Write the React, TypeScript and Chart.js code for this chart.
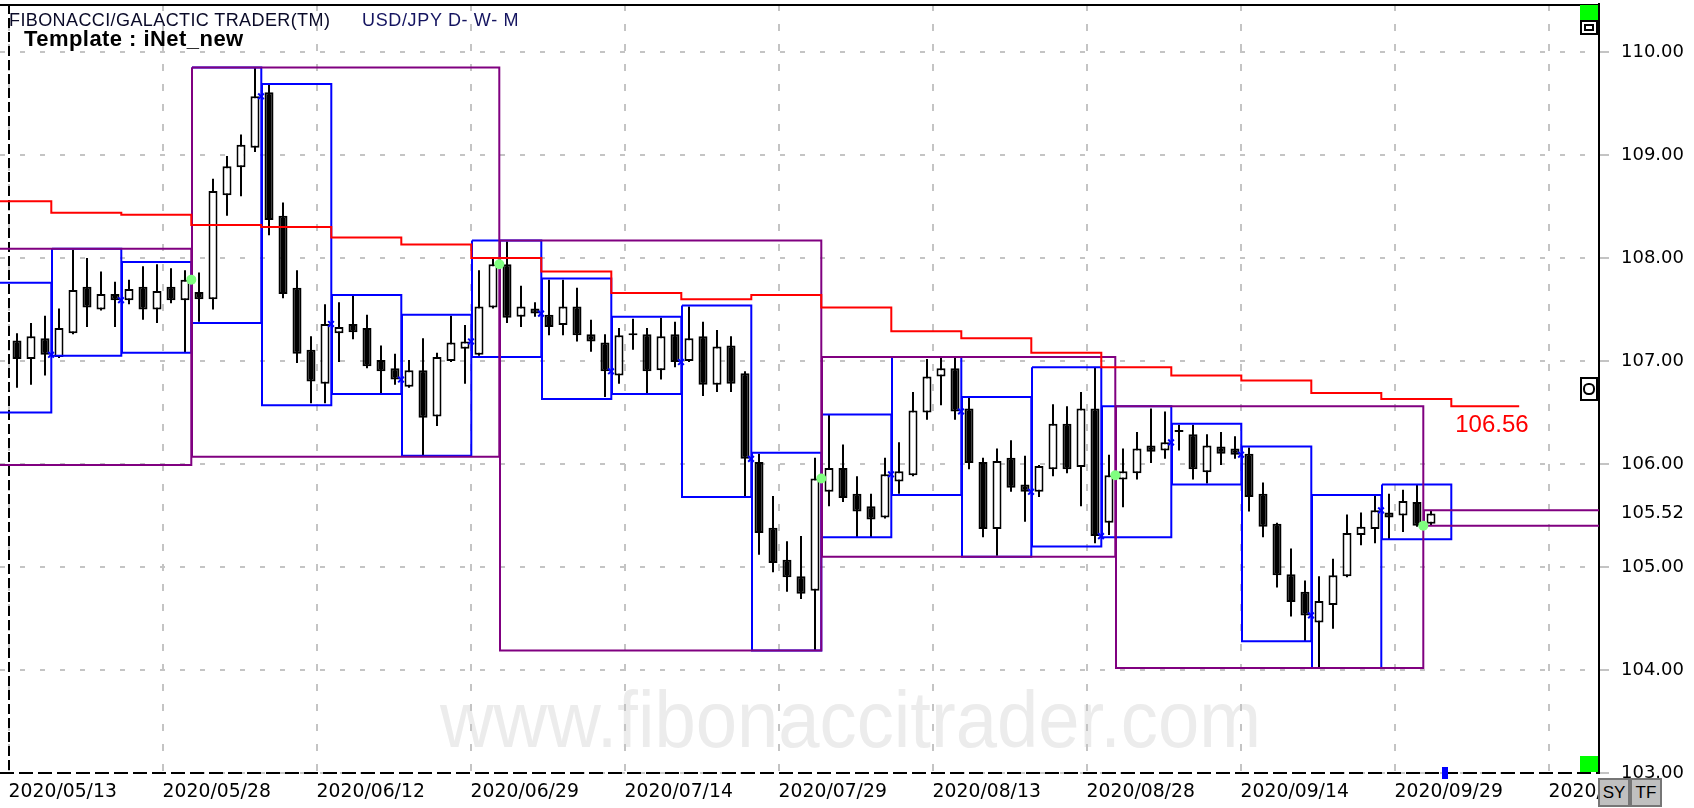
import React, { useEffect, useRef } from 'react';
import { Chart, registerables } from 'chart.js';

Chart.register(...registerables);

// ---- daily candles (index 0 = 2020/05/13) ----
const OPEN = [107.20,107.02,107.22,107.04,107.27,107.72,107.50,107.65,107.59,107.72,107.50,107.72,107.59,107.67,107.60,108.61,108.88,109.07,109.61,108.41,107.71,107.11,106.78,107.27,107.36,107.32,107.01,106.93,106.75,106.91,106.46,107.00,107.12,107.06,107.52,107.94,107.43,107.51,107.45,107.35,107.53,107.26,107.18,106.86,107.25,107.26,106.91,107.26,107.00,107.24,106.77,107.15,106.88,106.02,105.38,105.07,104.91,104.77,105.73,105.96,105.71,105.59,105.48,105.83,105.89,106.50,106.85,106.93,106.54,106.02,105.37,106.06,105.80,105.73,105.95,106.39,105.97,106.54,105.43,105.85,105.91,106.18,106.13,106.31,106.29,105.92,106.17,106.15,106.10,105.71,105.42,104.93,104.76,104.46,104.63,104.91,105.31,105.37,105.53,105.50,105.63,105.42];
const HIGH = [107.27,107.37,107.44,107.51,108.08,108.00,107.87,107.77,107.79,107.92,107.94,107.90,107.88,107.86,108.77,108.99,109.20,109.85,109.68,108.54,107.88,107.24,107.55,107.57,107.63,107.45,107.15,107.07,107.01,107.22,107.08,107.44,107.35,107.88,108.01,108.16,107.73,107.57,107.79,107.79,107.71,107.40,107.26,107.32,107.41,107.32,107.42,107.38,107.53,107.38,107.30,107.24,106.90,106.10,105.69,105.25,105.30,106.06,106.48,106.19,105.88,105.71,106.06,106.21,106.70,107.02,107.04,107.03,106.64,106.06,106.15,106.23,106.08,105.99,106.58,106.56,106.70,106.94,106.09,106.15,106.31,106.54,106.51,106.38,106.38,106.29,106.31,106.27,106.16,105.82,105.43,105.18,104.87,104.91,105.08,105.51,105.53,105.70,105.71,105.75,105.80,105.55];
const LOW = [106.74,106.77,106.86,107.03,107.26,107.33,107.49,107.33,107.55,107.40,107.37,107.56,107.08,107.38,107.50,108.41,108.60,109.03,108.22,107.61,106.98,106.59,106.59,106.99,107.21,106.93,106.68,106.77,106.74,106.07,106.37,106.99,106.78,107.05,107.51,107.37,107.33,107.43,107.25,107.25,107.19,107.09,106.65,106.78,107.11,106.68,106.82,106.94,106.99,106.66,106.70,106.70,105.68,105.12,104.95,104.76,104.69,104.19,105.59,105.63,105.29,105.29,105.47,105.71,105.88,106.43,106.57,106.43,105.95,105.29,105.11,105.73,105.44,105.68,105.88,105.91,105.59,105.23,105.31,105.58,105.85,106.01,106.05,106.13,105.85,105.81,105.99,106.05,105.54,105.29,104.80,104.52,104.28,104.02,104.40,104.90,105.21,105.23,105.27,105.34,105.39,105.40];
const CLOSE = [107.02,107.24,107.06,107.32,107.69,107.52,107.65,107.59,107.70,107.50,107.68,107.59,107.79,107.60,108.65,108.89,109.10,109.57,108.37,107.65,107.07,106.80,107.36,107.33,107.28,106.95,106.90,106.82,106.91,106.45,107.04,107.18,107.19,107.53,107.94,107.42,107.53,107.46,107.33,107.53,107.25,107.19,106.90,107.25,107.26,106.90,107.24,106.99,107.22,106.77,107.14,106.78,106.05,105.33,105.04,104.90,104.74,105.86,105.96,105.67,105.54,105.46,105.90,105.93,106.52,106.85,106.93,106.51,106.01,105.37,106.03,105.77,105.73,105.98,106.39,105.95,106.54,105.30,105.89,105.93,106.15,106.12,106.21,106.33,105.95,106.18,106.10,106.09,105.68,105.39,104.92,104.66,104.53,104.67,104.92,105.33,105.39,105.55,105.48,105.64,105.40,105.52];

// ---- x axis date labels (every 11 trading days) ----
const DATE_LABELS = ['2020/05/13','2020/05/28','2020/06/12','2020/06/29','2020/07/14','2020/07/29','2020/08/13','2020/08/28','2020/09/14','2020/09/29','2020/10/14'];
const DATE_STEP = 11;

// ---- y axis ----
const Y_TICKS = [103, 104, 105, 106, 107, 108, 109, 110];
const LAST_PRICE = 105.52;

// ---- weekly boxes (start index, high, low) ----
const WEEK_START = [-2,3,8,13,18,23,28,33,38,43,48,53,58,63,68,73,78,83,88,93,98];
const WEEK_HIGH = [107.76,108.09,107.96,109.85,109.69,107.64,107.45,108.17,107.80,107.43,107.54,106.11,106.48,107.04,106.65,106.94,106.56,106.39,106.17,105.70,105.80];
const WEEK_LOW = [106.50,107.05,107.08,107.37,106.57,106.68,106.08,107.04,106.63,106.68,105.68,104.19,105.29,105.70,105.10,105.20,105.29,105.80,104.28,104.02,105.27];

// ---- monthly boxes ----
const MONTH_START = [-8, 13, 35, 58, 79, 101];
const MONTH_END = [12, 34, 57, 78, 100, 122];
const MONTH_HIGH = [108.09, 109.85, 108.17, 107.04, 106.56, 105.55];
const MONTH_LOW = [105.99, 106.07, 104.19, 105.10, 104.02, 105.40];

// ---- red weekly step line (last value = projected next week) ----
const RED_WEEK_START = [-2,3,8,13,18,23,28,33,38,43,48,53,58,63,68,73,78,83,88,93,98,103];
const RED_LEVEL = [108.55,108.44,108.42,108.32,108.30,108.20,108.13,108.00,107.87,107.66,107.60,107.64,107.52,107.29,107.22,107.08,106.94,106.86,106.81,106.69,106.63,106.56];
const RED_END = 107.3;

const WATERMARK = 'www.fibonaccitrader.com';

// ---------- derived tables for Chart.js ----------
const N = OPEN.length;
const IDX = OPEN.map((_, i) => i);
const wickData = IDX.map(i => ({ x: i, y: [LOW[i], HIGH[i]] }));
const bodyData = IDX.map(i => ({ x: i, y: [OPEN[i], CLOSE[i]] }));
const bodyFill = IDX.map(i => (CLOSE[i] >= OPEN[i] ? '#ffffff' : '#000000'));

function boxPoints(starts: number[], ends: number[], highs: number[], lows: number[]) {
  const pts: { x: number; y: number | null }[] = [];
  starts.forEach((s, k) => {
    const x1 = s - 0.5;
    const x2 = ends[k] + 0.45;
    pts.push(
      { x: x1, y: highs[k] }, { x: x2, y: highs[k] }, { x: x2, y: lows[k] },
      { x: x1, y: lows[k] }, { x: x1, y: highs[k] }, { x: x2, y: null }
    );
  });
  return pts;
}
const WEEK_END = WEEK_START.map(s => s + 4);
const weekBoxData = boxPoints(WEEK_START, WEEK_END, WEEK_HIGH, WEEK_LOW);
const monthBoxData = boxPoints(MONTH_START, MONTH_END, MONTH_HIGH, MONTH_LOW);

const redData = RED_LEVEL.map((v, k) => ({ x: RED_WEEK_START[k] - 0.55, y: v }));
redData.push({ x: RED_END, y: RED_LEVEL[RED_LEVEL.length - 1] });

const weekMarkers = WEEK_END.filter(e => e >= 0 && e < N - 1).map(e => ({ x: e + 0.43, y: CLOSE[e] }));
const monthMarkers = MONTH_END.filter(e => e >= 0 && e < N).map(e => ({ x: e + 0.45, y: CLOSE[e] }));

const X_MIN = -17 / 14;
const X_MAX = 113;
const Y_MIN = 103;
const Y_MAX = 110.466;

const decorPlugin = {
  id: 'decor',
  beforeDraw(chart: any) {
    const { ctx, width, height } = chart;
    ctx.save();
    ctx.fillStyle = '#ffffff';
    ctx.fillRect(0, 0, width, height);
    ctx.font = '80px "Liberation Sans", Arial, sans-serif';
    const w = ctx.measureText(WATERMARK).width;
    ctx.translate(440, 747);
    ctx.scale(821 / w, 1);
    ctx.fillStyle = '#ececec';
    ctx.textBaseline = 'alphabetic';
    ctx.fillText(WATERMARK, 0, 0);
    ctx.restore();
  },
  beforeDatasetsDraw(chart: any) {
    const { ctx, chartArea: a, scales } = chart;
    const x0 = Math.round(scales.x.getPixelForValue(scales.x.ticks[0].value));
    ctx.save();
    ctx.strokeStyle = '#000';
    ctx.lineWidth = 2;
    ctx.setLineDash([10, 4]);
    ctx.beginPath();
    ctx.moveTo(x0, a.top);
    ctx.lineTo(x0, a.bottom);
    ctx.stroke();
    ctx.setLineDash([14, 5]);
    ctx.beginPath();
    ctx.moveTo(a.left, a.bottom);
    ctx.lineTo(a.right, a.bottom);
    ctx.stroke();
    ctx.setLineDash([]);
    ctx.beginPath();
    ctx.moveTo(a.left, a.top + 1);
    ctx.lineTo(a.right, a.top + 1);
    ctx.stroke();
    ctx.restore();
  },
  afterDatasetsDraw(chart: any) {
    const { ctx, chartArea: a, scales } = chart;
    const last = RED_LEVEL[RED_LEVEL.length - 1];
    const ex = scales.x.getPixelForValue(RED_END);
    const ey = scales.y.getPixelForValue(last);
    ctx.save();
    ctx.fillStyle = '#ff0000';
    ctx.font = '24px "Liberation Sans", Arial, sans-serif';
    ctx.textBaseline = 'top';
    ctx.textAlign = 'left';
    ctx.fillText(last.toFixed(2), ex - 64, ey + 7);
    const bx = Math.round(scales.x.getPixelForValue(N));
    ctx.fillStyle = '#0000ff';
    ctx.fillRect(bx - 3, a.bottom - 6, 6, 12);
    ctx.restore();
  },
};

export default function App() {
  const ref = useRef<HTMLCanvasElement>(null);

  useEffect(() => {
    if (!ref.current) return;
    const chart = new Chart(ref.current, {
      type: 'bar',
      data: {
        datasets: [
          {
            type: 'line', label: 'red', data: redData as any, borderColor: '#ff0000', borderWidth: 2,
            stepped: true, pointRadius: 0, pointHoverRadius: 0, fill: false, order: 0, tension: 0,
          },
          {
            type: 'line', label: 'month', data: monthBoxData as any, borderColor: '#800080', borderWidth: 2,
            pointRadius: 0, pointHoverRadius: 0, fill: false, order: 1, spanGaps: false, tension: 0,
          },
          {
            type: 'line', label: 'week', data: weekBoxData as any, borderColor: '#0000ff', borderWidth: 2,
            pointRadius: 0, pointHoverRadius: 0, fill: false, order: 2, spanGaps: false, tension: 0,
          },
          {
            type: 'line', label: 'wk', data: weekMarkers as any, showLine: false, pointStyle: 'crossRot',
            pointRadius: 4, pointBorderColor: '#0000ff', pointBorderWidth: 2, order: -1,
          },
          {
            type: 'line', label: 'mo', data: monthMarkers as any, showLine: false, pointStyle: 'circle',
            pointRadius: 5, pointBackgroundColor: '#80ff80', pointBorderColor: '#80ff80', pointBorderWidth: 0, order: -2,
          },
          {
            type: 'bar', label: 'body', data: bodyData as any, backgroundColor: bodyFill, borderColor: '#000000',
            borderWidth: 2, borderSkipped: false, barThickness: 9, minBarLength: 2, grouped: false,
            inflateAmount: 0, order: 4,
          },
          {
            type: 'bar', label: 'wick', data: wickData as any, backgroundColor: '#000000', borderWidth: 0,
            barThickness: 2, grouped: false, inflateAmount: 0, order: 5,
          },
        ] as any,
      },
      options: {
        responsive: false,
        animation: false,
        events: [],
        layout: { autoPadding: false, padding: { top: 4, left: 0, right: 0, bottom: 0 } },
        plugins: { legend: { display: false }, tooltip: { enabled: false }, title: { display: false } },
        scales: {
          x: {
            type: 'linear', position: 'bottom', min: X_MIN, max: X_MAX, offset: false,
            afterBuildTicks: (s: any) => { s.ticks = DATE_LABELS.map((_, k) => ({ value: k * DATE_STEP - 0.6 })); },
            afterFit: (s: any) => { s.height = 35; s.paddingLeft = 0; s.paddingRight = 0; },
            ticks: {
              callback: (_v: any, i: number) => DATE_LABELS[i], align: 'start', autoSkip: false,
              maxRotation: 0, minRotation: 0, padding: 8, color: '#000',
              font: { family: '"DejaVu Sans", sans-serif', size: 18.8 },
            },
            grid: { color: '#c4c4c4', lineWidth: 2, drawTicks: false, offset: false },
            border: { display: false, dash: [7, 13] },
          },
          y: {
            type: 'linear', position: 'right', min: Y_MIN, max: Y_MAX, beginAtZero: false,
            afterBuildTicks: (s: any) => {
              s.ticks = Y_TICKS.concat([LAST_PRICE]).sort((a, b) => a - b).map(v => ({ value: v }));
            },
            afterFit: (s: any) => { s.width = 95; s.paddingTop = 0; s.paddingBottom = 0; },
            ticks: {
              callback: (v: any) => Number(v).toFixed(2), autoSkip: false, padding: 12, color: '#000',
              font: { family: '"DejaVu Sans", sans-serif', size: 18 },
            },
            grid: {
              color: (c: any) => (c.tick && c.tick.value === LAST_PRICE ? 'rgba(0,0,0,0)' : '#c4c4c4'),
              tickColor: (c: any) => (c.tick && c.tick.value === LAST_PRICE ? 'rgba(0,0,0,0)' : '#c4c4c4'),
              lineWidth: 2, tickWidth: 2, tickLength: 10, drawTicks: true,
            },
            border: { display: true, color: '#000', width: 2, dash: [5, 15] },
          },
        } as any,
      },
      plugins: [decorPlugin],
    } as any);
    return () => chart.destroy();
  }, []);

  const sans = '"Liberation Sans", Arial, sans-serif';
  const btn: React.CSSProperties = {
    position: 'absolute', top: 778, width: 32, height: 29, boxSizing: 'border-box',
    border: '2px solid #767676', background: '#c0c0c0', fontFamily: sans, fontSize: 17,
    display: 'flex', alignItems: 'center', justifyContent: 'center', color: '#000',
  };
  return (
    <div style={{ position: 'fixed', left: 0, top: 0, width: 1694, height: 808, background: '#fff', overflow: 'hidden' }}>
      <canvas ref={ref} width={1694} height={808} style={{ position: 'absolute', left: 0, top: 0, width: 1694, height: 808 }} />
      <div style={{ position: 'absolute', left: 9, top: 11, fontFamily: sans, fontSize: 18, lineHeight: '18px', letterSpacing: '0.4px', whiteSpace: 'pre', color: '#0a0a28' }}>FIBONACCI/GALACTIC TRADER(TM)</div>
      <div style={{ position: 'absolute', left: 362, top: 11, fontFamily: sans, fontSize: 18, lineHeight: '18px', letterSpacing: '0.65px', whiteSpace: 'pre', color: '#141460' }}>USD/JPY D- W- M</div>
      <div style={{ position: 'absolute', left: 24, top: 28, fontFamily: sans, fontSize: 22, lineHeight: '22px', letterSpacing: '0.45px', fontWeight: 'bold', whiteSpace: 'pre', color: '#000' }}>Template : iNet_new</div>
      <div style={{ position: 'absolute', left: 1580, top: 5, width: 18, height: 15, background: '#00ff00' }} />
      <div style={{ position: 'absolute', left: 1580, top: 20, width: 18, height: 15, background: '#000' }}>
        <div style={{ position: 'absolute', left: 2, top: 2, width: 14, height: 11, background: '#fff' }}>
          <div style={{ position: 'absolute', left: 2, top: 2, width: 10, height: 7, boxSizing: 'border-box', border: '2px solid #000' }} />
        </div>
      </div>
      <div style={{ position: 'absolute', left: 1580, top: 377, width: 18, height: 24, boxSizing: 'border-box', border: '2px solid #000', background: '#fff' }}>
        <div style={{ position: 'absolute', left: 1, top: 4, width: 12, height: 12, boxSizing: 'border-box', border: '2px solid #000', borderRadius: '45%' }} />
      </div>
      <div style={{ position: 'absolute', left: 1580, top: 756, width: 18, height: 16, background: '#00ff00' }} />
      <div style={{ ...btn, left: 1598 }}>SY</div>
      <div style={{ ...btn, left: 1630 }}>TF</div>
    </div>
  );
}
